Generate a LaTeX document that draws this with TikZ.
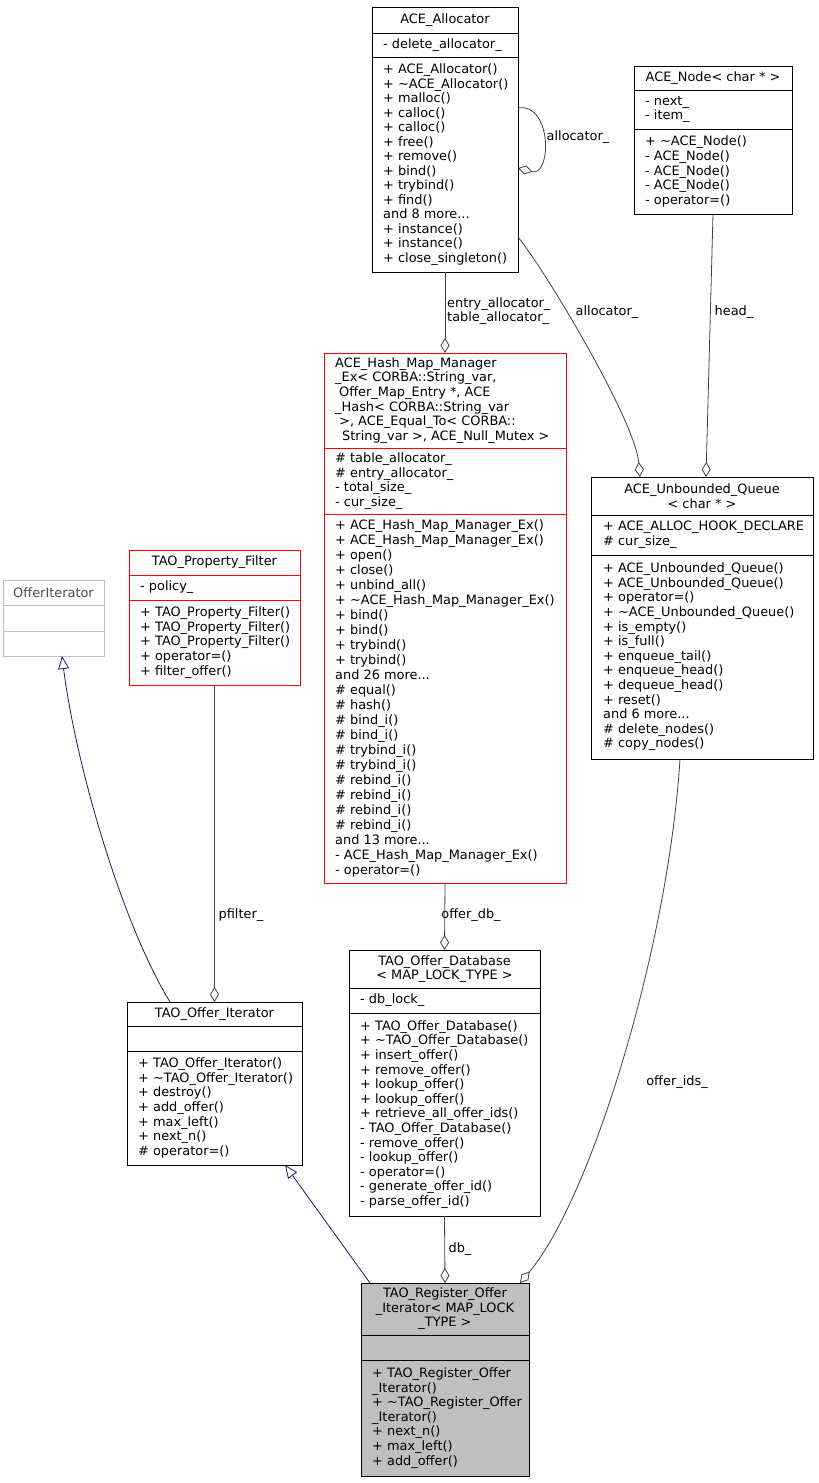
\documentclass[tikz,border=0pt]{standalone}
\usepackage{fontspec}
\setmainfont{DejaVu Sans}
\usetikzlibrary{arrows.meta,calc}
\newcommand\dxfont{\fontsize{12.9}{14.6}\selectfont}
\newcommand\dxfontA{\fontsize{12.9}{14.5}\selectfont}
\newcommand\dxfontH{\fontsize{12.9}{15.0}\selectfont}
\definecolor{navyedge}{HTML}{191970}
\definecolor{edgegray}{HTML}{404040}
\definecolor{boxgray}{HTML}{BFBFBF}
\begin{document}
\begin{tikzpicture}[x=1pt,y=-1pt,
  cls/.style={draw=black, line width=0.8pt, fill=white, inner sep=0pt, outer sep=0pt, anchor=north west},
  redcls/.style={cls, draw=red},
  graycls/.style={cls, draw=boxgray},
  sepl/.style={line width=0.8pt},
  txt/.style={inner sep=0pt, anchor=west, align=left, font=\dxfont},
  ttl/.style={inner sep=0pt, align=center, font=\dxfont},
  lbl/.style={inner sep=0pt, align=left, font=\dxfont},
  agg/.style={draw=edgegray, line width=0.8pt, -{Diamond[open,length=15pt,width=9pt]}},
  inh/.style={draw=navyedge, line width=0.8pt, -{Triangle[open,length=13pt,width=11pt]}}
]
\useasboundingbox (0,0) rectangle (819,1483);

% ---------- ACE_Allocator ----------
\node[cls, minimum width=146pt, minimum height=265pt] (alloc) at (372,7) {};
\draw[sepl] (372,33) -- (518,33);
\draw[sepl] (372,57) -- (518,57);
\node[ttl] (allocT) at (445,20) {ACE\_Allocator};
\node[txt] (allocA) at (383,45) {- delete\_allocator\_};
\node[txt, font=\dxfontA] (allocM) at (383,164.5) {+ ACE\_Allocator()\\+ \textasciitilde ACE\_Allocator()\\+ malloc()\\+ calloc()\\+ calloc()\\+ free()\\+ remove()\\+ bind()\\+ trybind()\\+ find()\\and 8 more...\\+ instance()\\+ instance()\\+ close\_singleton()};

% ---------- ACE_Node ----------
\node[cls, minimum width=158pt, minimum height=148pt] (anode) at (634,66) {};
\draw[sepl] (634,90) -- (792,90);
\draw[sepl] (634,129) -- (792,129);
\node[ttl] (anodeT) at (713,78) {ACE\_Node< char * >};
\node[txt] (anodeA) at (645,109.5) {- next\_\\- item\_};
\node[txt] (anodeM) at (645,171.5) {+ \textasciitilde ACE\_Node()\\- ACE\_Node()\\- ACE\_Node()\\- ACE\_Node()\\- operator=()};

% ---------- ACE_Hash_Map_Manager_Ex ----------
\node[redcls, minimum width=242pt, minimum height=530pt] (hash) at (324,353) {};
\draw[sepl, red] (324,448) -- (566,448);
\draw[sepl, red] (324,514) -- (566,514);
\node[txt] (hashT) at (335,400.5) {ACE\_Hash\_Map\_Manager\\\_Ex< CORBA::String\_var,\\\hspace*{4pt}Offer\_Map\_Entry *, ACE\\\_Hash< CORBA::String\_var\\\hspace*{4pt}>, ACE\_Equal\_To< CORBA::\\\hspace*{7pt}String\_var >, ACE\_Null\_Mutex >};
\node[txt] (hashA) at (335,481) {\# table\_allocator\_\\\# entry\_allocator\_\\- total\_size\_\\- cur\_size\_};
\node[txt, font=\dxfontH] (hashM) at (335,698.5) {+ ACE\_Hash\_Map\_Manager\_Ex()\\+ ACE\_Hash\_Map\_Manager\_Ex()\\+ open()\\+ close()\\+ unbind\_all()\\+ \textasciitilde ACE\_Hash\_Map\_Manager\_Ex()\\+ bind()\\+ bind()\\+ trybind()\\+ trybind()\\and 26 more...\\\# equal()\\\# hash()\\\# bind\_i()\\\# bind\_i()\\\# trybind\_i()\\\# trybind\_i()\\\# rebind\_i()\\\# rebind\_i()\\\# rebind\_i()\\\# rebind\_i()\\and 13 more...\\- ACE\_Hash\_Map\_Manager\_Ex()\\- operator=()};

% ---------- ACE_Unbounded_Queue ----------
\node[cls, minimum width=222pt, minimum height=282pt] (queue) at (591,477) {};
\draw[sepl] (591,515) -- (813,515);
\draw[sepl] (591,555) -- (813,555);
\node[ttl] (queueT) at (702,496) {ACE\_Unbounded\_Queue\\< char * >};
\node[txt] (queueA) at (603,535) {+ ACE\_ALLOC\_HOOK\_DECLARE\\\# cur\_size\_};
\node[txt] (queueM) at (603,657) {+ ACE\_Unbounded\_Queue()\\+ ACE\_Unbounded\_Queue()\\+ operator=()\\+ \textasciitilde ACE\_Unbounded\_Queue()\\+ is\_empty()\\+ is\_full()\\+ enqueue\_tail()\\+ enqueue\_head()\\+ dequeue\_head()\\+ reset()\\and 6 more...\\\# delete\_nodes()\\\# copy\_nodes()};

% ---------- TAO_Property_Filter ----------
\node[redcls, minimum width=171pt, minimum height=135pt] (prop) at (129,550) {};
\draw[sepl, red] (129,575) -- (300,575);
\draw[sepl, red] (129,600) -- (300,600);
\node[ttl] (propT) at (214.5,562.5) {TAO\_Property\_Filter};
\node[txt] (propA) at (140,587.5) {- policy\_};
\node[txt] (propM) at (140,642.5) {+ TAO\_Property\_Filter()\\+ TAO\_Property\_Filter()\\+ TAO\_Property\_Filter()\\+ operator=()\\+ filter\_offer()};

% ---------- OfferIterator ----------
\node[graycls, minimum width=101pt, minimum height=76pt] (offit) at (3,580) {};
\draw[sepl, boxgray] (3,605) -- (104,605);
\draw[sepl, boxgray] (3,631) -- (104,631);
\node[ttl, text=black!70] (offitT) at (53.5,592.5) {OfferIterator};

% ---------- TAO_Offer_Iterator ----------
\node[cls, minimum width=175pt, minimum height=163pt] (titer) at (127,1002) {};
\draw[sepl] (127,1026) -- (302,1026);
\draw[sepl] (127,1051) -- (302,1051);
\node[ttl] (titerT) at (214.5,1014) {TAO\_Offer\_Iterator};
\node[txt] (titerM) at (138,1108) {+ TAO\_Offer\_Iterator()\\+ \textasciitilde TAO\_Offer\_Iterator()\\+ destroy()\\+ add\_offer()\\+ max\_left()\\+ next\_n()\\\# operator=()};

% ---------- TAO_Offer_Database ----------
\node[cls, minimum width=191pt, minimum height=266pt] (db) at (349,950) {};
\draw[sepl] (349,988) -- (540,988);
\draw[sepl] (349,1013) -- (540,1013);
\node[ttl] (dbT) at (444.5,969) {TAO\_Offer\_Database\\< MAP\_LOCK\_TYPE >};
\node[txt] (dbA) at (360,1000.5) {- db\_lock\_};
\node[txt] (dbM) at (360,1114.5) {+ TAO\_Offer\_Database()\\+ \textasciitilde TAO\_Offer\_Database()\\+ insert\_offer()\\+ remove\_offer()\\+ lookup\_offer()\\+ lookup\_offer()\\+ retrieve\_all\_offer\_ids()\\- TAO\_Offer\_Database()\\- remove\_offer()\\- lookup\_offer()\\- operator=()\\- generate\_offer\_id()\\- parse\_offer\_id()};

% ---------- TAO_Register_Offer_Iterator ----------
\node[cls, fill=boxgray, minimum width=168pt, minimum height=193pt] (reg) at (361,1283) {};
\draw[sepl] (361,1335) -- (529,1335);
\draw[sepl] (361,1360) -- (529,1360);
\node[ttl] (regT) at (445,1309) {TAO\_Register\_Offer\\\_Iterator< MAP\_LOCK\\\_TYPE >};
\node[txt] (regM) at (372,1418) {+ TAO\_Register\_Offer\\\_Iterator()\\+ \textasciitilde TAO\_Register\_Offer\\\_Iterator()\\+ next\_n()\\+ max\_left()\\+ add\_offer()};

% ---------- connectors ----------
\draw[agg] ($(alloc.north east)+(0,101)$) .. controls ($(alloc.north east)+(34,95)$) and ($(alloc.north east)+(34,170)$) .. ($(alloc.north east)+(0,161)$);
\node[lbl] (lloop) at (578,137) {allocator\_};

\draw[agg] (alloc.south) -- (hash.north);
\node[lbl, anchor=west] (lhash) at (447,311) {entry\_allocator\_\\table\_allocator\_};

\draw[agg] ($(alloc.north east)+(0,230)$) .. controls ($(alloc.north east)+(27,263)$) and ($(queue.north west)+(44,-57)$) .. ($(queue.north west)+(49,0)$);
\node[lbl] (lalloc) at (607,312) {allocator\_};

\draw[agg] (anode.south) -- ($(queue.north west)+(115,0)$);
\node[lbl] (lhead) at (734,312) {head\_};

\draw[agg] (hash.south) -- (db.north);
\node[lbl] (ldb) at (471,915) {offer\_db\_};

\draw[agg] (prop.south) -- (titer.north);
\node[lbl] (lpf) at (241,915) {pfilter\_};

\draw[agg] (db.south) -- ($(reg.north west)+(84,0)$);
\node[lbl] (ldbb) at (460,1249) {db\_};

\draw[agg] ($(queue.south west)+(89,0)$) .. controls ($(queue.south west)+(77,191)$) and ($(reg.north east)+(61,-83)$) .. ($(reg.north east)+(-9,0)$);
\node[lbl] (lids) at (677,1082) {offer\_ids\_};

\draw[inh] ($(reg.north west)+(9,0)$) -- ($(titer.south east)+(-17,0)$);
\draw[inh] ($(titer.north west)+(43,0)$) .. controls ($(titer.north west)+(-7,-82)$) and ($(offit.south west)+(72,104)$) .. ($(offit.south west)+(59,0)$);
\end{tikzpicture}
\end{document}
